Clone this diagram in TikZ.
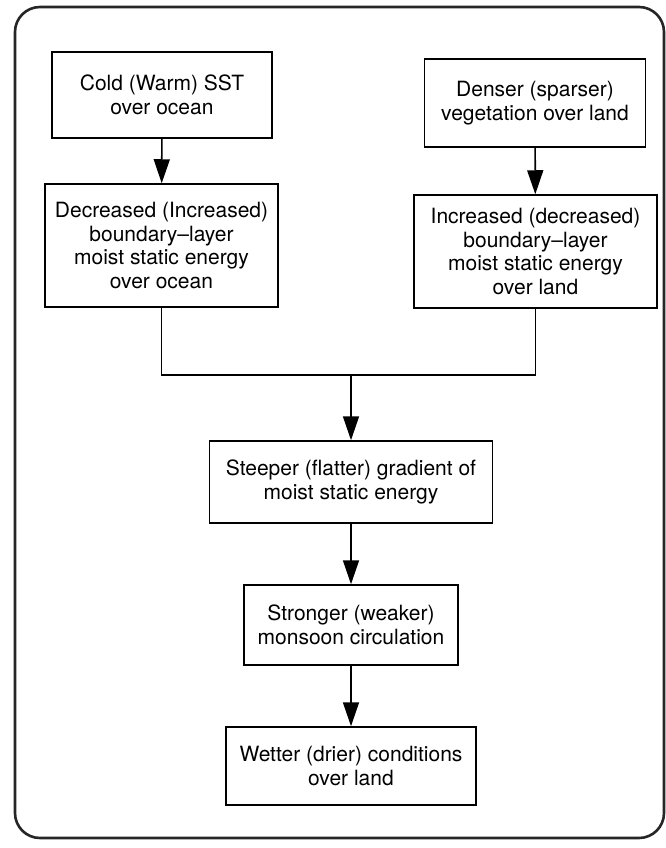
\documentclass[tikz,border=0pt]{standalone}
\usepackage{fontspec}
\setmainfont{TeX Gyre Heros}
\usetikzlibrary{arrows.meta}
\tikzset{box/.style={draw, line width=1.5pt, align=center, inner sep=0pt,
         font=\fontsize{21}{23.5}\selectfont},
         flow/.style={line width=1.6pt, -{Triangle[length=24pt, width=16pt]}}}

\begin{document}
\begin{tikzpicture}[x=1pt, y=-1pt]
  \useasboundingbox (0,0) rectangle (665,848);
  \draw[line width=2.6pt, black!85, rounded corners=25pt] (15,7) rectangle (664,838);

  \node[box, minimum width=220pt, minimum height=86pt] (cold) at (162,95) {Cold (Warm) SST\\over ocean};
  \node[box, minimum width=221pt, minimum height=88pt] (dense) at (535,103) {Denser (sparser)\\vegetation over land};
  \node[box, minimum width=233pt, minimum height=123pt] (oceanmse) at (161.5,245.5)
    {Decreased (Increased)\\boundary--layer\\moist static energy\\over ocean};
  \node[box, minimum width=243pt, minimum height=113pt] (landmse) at (535.5,251.5)
    {Increased (decreased)\\boundary--layer\\moist static energy\\over land};
  \node[box, minimum width=283pt, minimum height=82pt] (gradient) at (351,482) {Steeper (flatter) gradient of\\moist static energy};
  \node[box, minimum width=214pt, minimum height=80pt] (monsoon) at (351,625) {Stronger (weaker)\\monsoon circulation};
  \node[box, minimum width=250pt, minimum height=78pt] (wetter) at (351,766) {Wetter (drier) conditions\\over land};

  \coordinate (join) at (351,375);
  \draw[flow] (cold) -- (oceanmse);
  \draw[flow] (dense) -- (landmse);
  \draw[line width=1.6pt] (oceanmse.south) |- (join) -| (landmse.south);
  \draw[flow] (join) -- (gradient);
  \draw[flow] (gradient) -- (monsoon);
  \draw[flow] (monsoon) -- (wetter);
\end{tikzpicture}
\end{document}
